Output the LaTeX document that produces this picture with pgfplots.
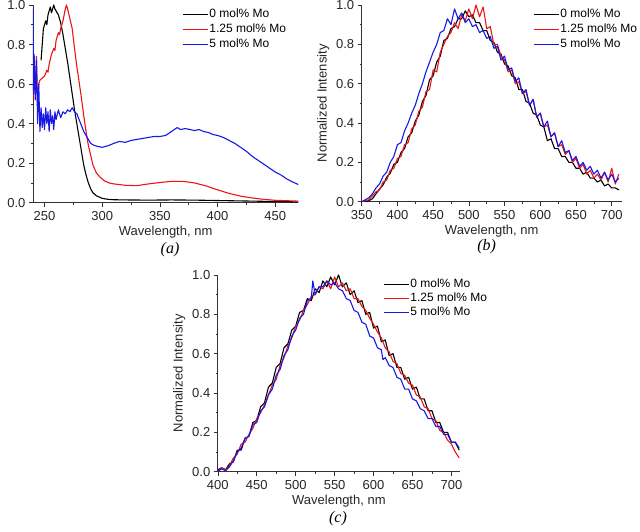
\documentclass[border=0pt]{standalone}
\usepackage{pgfplots}
\pgfplotsset{compat=1.18}
\usepackage{fontspec}
\setmainfont{Liberation Sans}
\newfontfamily\panelfont{Liberation Serif}
\definecolor{specred}{RGB}{235,20,24}
\definecolor{specblue}{RGB}{24,24,230}

\pgfplotsset{
  panel/.style={
    scale only axis,
    axis lines*=left,
    axis line style={line width=0.8pt, black!80},
    tick align=outside,
    tick style={line width=0.6pt, black!80},
    major tick length=4pt, minor tick length=2pt,
    minor x tick num=1, minor y tick num=1,
    ymin=0, ymax=1,
    ytick={0,0.2,0.4,0.6,0.8,1.0},
    xtick distance=50,
    yticklabel style={/pgf/number format/.cd, fixed, fixed zerofill, precision=1},
    /pgf/number format/assume math mode=true,
    tick label style={font=\fontsize{13}{14}\selectfont, text=black!85},
    xticklabel style={yshift=-1pt},
    label style={font=\fontsize{13}{14}\selectfont, text=black!85},
    xlabel={Wavelength, nm},
    xlabel style={yshift=1pt},
    legend cell align=left,
    legend image code/.code={\draw[##1, line width=1.2pt] (0pt,0pt) -- (25pt,0pt);},
    legend style={draw=none, fill=none, inner sep=0pt, font=\fontsize{12}{13}\selectfont,
      nodes={inner sep=1pt, text height=9pt, text depth=3pt}, row sep=1pt,
      anchor=north west},
    every axis plot/.append style={line width=1.1pt, line join=round},
  }
}

\begin{document}
\begin{tikzpicture}[x=1pt,y=1pt]
\useasboundingbox (0,0) rectangle (640,532);

% ---------------- (a) absorption ----------------
\begin{axis}[panel,
  at={(33pt,329.3pt)}, anchor=south west,
  width=265.3pt, height=197.7pt,
  xmin=240, xmax=470,
  legend style={at={(0.5616,0.99)}}]
\addplot[black] table {
247 0.72
248 0.80
249 0.88
251 0.92
252 0.90
253 0.95
254 0.97
255 0.99
256 0.96
257 0.98
258 1.00
259 0.98
260 0.97
262 0.95
264 0.91
266 0.85
268 0.78
270 0.71
272 0.63
274 0.55
276 0.47
278 0.40
280 0.33
282 0.26
284 0.19
286 0.14
288 0.10
290 0.07
292 0.05
295 0.035
300 0.022
305 0.017
310 0.015
320 0.014
340 0.013
360 0.014
380 0.013
400 0.011
420 0.009
440 0.007
460 0.005
470 0.004
};
\addlegendentry{0 mol\% Mo}
\addplot[specred] table {
240 0.52
241 0.70
242 0.55
243 0.74
244 0.50
245 0.60
246 0.62
248 0.63
250 0.64
252 0.67
253 0.66
254 0.70
256 0.75
258 0.78
259 0.77
260 0.82
262 0.86
263 0.85
264 0.88
266 0.92
268 0.98
269 1.00
270 0.98
272 0.93
274 0.88
276 0.78
278 0.69
280 0.61
282 0.53
284 0.44
286 0.36
288 0.29
290 0.24
292 0.19
295 0.15
298 0.13
302 0.11
306 0.10
310 0.095
320 0.088
330 0.086
340 0.095
350 0.102
360 0.108
370 0.108
380 0.100
390 0.085
400 0.065
410 0.047
420 0.033
430 0.024
440 0.017
450 0.012
460 0.010
470 0.008
};
\addlegendentry{1.25 mol\% Mo}
\addplot[specblue] table {
240 0.98
240.5 0.55
241 0.75
242 0.52
243 0.72
244 0.40
245 0.60
246 0.36
247 0.48
248 0.38
249 0.45
250 0.37
251 0.48
252 0.40
253 0.46
254 0.36
255 0.47
256 0.40
257 0.44
258 0.37
259 0.46
260 0.42
262 0.47
264 0.43
266 0.46
268 0.45
270 0.47
272 0.46
274 0.48
276 0.46
278 0.45
280 0.42
282 0.39
284 0.36
286 0.34
288 0.32
290 0.30
293 0.29
296 0.285
300 0.28
303 0.285
306 0.29
310 0.30
315 0.31
320 0.305
325 0.315
330 0.32
335 0.325
340 0.33
345 0.335
350 0.335
355 0.34
360 0.36
365 0.38
368 0.37
372 0.375
376 0.37
380 0.365
384 0.37
388 0.36
392 0.355
396 0.345
400 0.34
405 0.33
410 0.315
415 0.30
420 0.28
425 0.26
430 0.235
435 0.215
440 0.195
445 0.175
450 0.155
455 0.14
460 0.12
465 0.105
470 0.092
};
\addlegendentry{5 mol\% Mo}
\end{axis}

% ---------------- (b) emission ----------------
\begin{axis}[panel,
  at={(361.7pt,330.3pt)}, anchor=south west,
  width=260pt, height=196.7pt,
  xmin=350, xmax=714,
  ylabel={Normalized Intensity},
  legend style={at={(0.659,0.99)}}]
\addplot[black] table {
350 0.00
355 0.00
360 0.005
365 0.015
370 0.04
375 0.065
380 0.085
385 0.125
390 0.145
395 0.19
400 0.20
405 0.25
410 0.27
415 0.33
420 0.35
425 0.41
430 0.44
435 0.51
440 0.54
445 0.62
450 0.64
455 0.71
460 0.74
465 0.82
470 0.83
475 0.88
480 0.89
485 0.93
490 0.93
495 0.97
500 0.94
505 0.95
510 0.91
515 0.91
520 0.87
525 0.87
530 0.82
535 0.81
540 0.76
545 0.75
550 0.70
555 0.69
560 0.64
565 0.63
570 0.57
575 0.57
580 0.51
585 0.50
590 0.45
595 0.44
600 0.39
605 0.38
610 0.31
615 0.32
620 0.27
625 0.27
630 0.23
635 0.23
640 0.20
645 0.20
650 0.17
655 0.17
660 0.14
665 0.15
670 0.12
675 0.12
680 0.10
685 0.11
690 0.08
695 0.09
700 0.07
705 0.07
710 0.06
};
\addlegendentry{0 mol\% Mo}
\addplot[specred] table {
350 0.00
355 0.005
360 0.01
365 0.03
370 0.05
375 0.06
380 0.10
385 0.11
390 0.16
395 0.17
400 0.22
405 0.23
410 0.29
415 0.30
420 0.37
425 0.39
430 0.46
435 0.48
440 0.56
445 0.57
450 0.67
455 0.66
460 0.76
465 0.80
470 0.84
475 0.86
480 0.91
485 0.88
490 0.95
495 0.92
500 0.98
505 0.93
510 1.00
515 0.94
520 0.99
525 0.88
530 0.89
535 0.80
540 0.80
545 0.74
550 0.72
555 0.66
560 0.67
565 0.60
570 0.61
575 0.55
580 0.56
585 0.49
590 0.52
595 0.43
600 0.45
605 0.38
610 0.39
615 0.33
620 0.35
625 0.28
630 0.29
635 0.24
640 0.26
645 0.20
650 0.22
655 0.17
660 0.19
665 0.14
670 0.16
675 0.12
680 0.14
685 0.11
690 0.15
695 0.10
700 0.17
705 0.09
710 0.14
};
\addlegendentry{1.25 mol\% Mo}
\addplot[specblue] table {
350 0.00
355 0.01
360 0.02
365 0.04
370 0.07
375 0.09
380 0.13
385 0.15
390 0.20
395 0.23
400 0.29
405 0.30
410 0.36
415 0.40
420 0.45
425 0.49
430 0.55
435 0.60
440 0.66
445 0.71
450 0.76
455 0.80
460 0.86
465 0.87
470 0.93
475 0.90
480 0.98
485 0.93
490 0.96
495 0.91
500 0.93
505 0.89
510 0.90
515 0.86
520 0.87
525 0.83
530 0.84
535 0.78
540 0.79
545 0.72
550 0.74
555 0.67
560 0.68
565 0.61
570 0.63
575 0.55
580 0.57
585 0.49
590 0.52
595 0.43
600 0.45
605 0.38
610 0.41
615 0.33
620 0.35
625 0.28
630 0.31
635 0.25
640 0.26
645 0.21
650 0.23
655 0.18
660 0.20
665 0.16
670 0.18
675 0.14
680 0.16
685 0.12
690 0.15
695 0.11
700 0.14
705 0.10
710 0.12
};
\addlegendentry{5 mol\% Mo}
\end{axis}

% ---------------- (c) emission ----------------
\begin{axis}[panel,
  at={(217.8pt,60.3pt)}, anchor=south west,
  width=242.2pt, height=196.7pt,
  xmin=400, xmax=711,
  ylabel={Normalized Intensity},
  legend style={at={(0.682,0.99)}, row sep=0pt}]
\addplot[black] table {
400 0.01
405 0.02
410 0.01
415 0.04
420 0.05
425 0.11
430 0.11
435 0.17
440 0.18
445 0.25
450 0.26
455 0.33
460 0.35
465 0.43
470 0.45
475 0.53
480 0.55
485 0.63
490 0.65
495 0.72
500 0.74
505 0.81
510 0.82
515 0.88
520 0.87
525 0.93
530 0.91
535 0.97
540 0.94
545 0.99
550 0.95
555 1.00
560 0.94
565 0.96
570 0.90
575 0.92
580 0.86
585 0.87
590 0.80
595 0.81
600 0.73
605 0.74
610 0.66
615 0.67
620 0.59
625 0.60
630 0.53
635 0.53
640 0.47
645 0.48
650 0.42
655 0.43
660 0.37
665 0.37
670 0.31
675 0.31
680 0.25
685 0.25
690 0.20
695 0.20
700 0.15
705 0.15
710 0.11
};
\addlegendentry{0 mol\% Mo}
\addplot[specred] table {
400 0.00
405 0.02
410 0.01
415 0.03
420 0.07
425 0.09
430 0.14
435 0.15
440 0.19
445 0.22
450 0.27
455 0.30
460 0.34
465 0.39
470 0.44
475 0.47
480 0.54
485 0.58
490 0.64
495 0.68
500 0.74
505 0.77
510 0.82
515 0.85
520 0.89
525 0.90
530 0.94
535 0.93
540 0.97
545 0.93
550 0.99
555 0.94
560 0.96
565 0.92
570 0.93
575 0.88
580 0.88
585 0.84
590 0.82
595 0.78
600 0.75
605 0.71
610 0.68
615 0.63
620 0.61
625 0.56
630 0.55
635 0.50
640 0.49
645 0.45
650 0.44
655 0.39
660 0.38
665 0.33
670 0.32
675 0.27
680 0.26
685 0.21
690 0.20
695 0.16
700 0.14
705 0.10
710 0.07
};
\addlegendentry{1.25 mol\% Mo}
\addplot[specblue] table {
400 0.00
405 0.015
410 0.005
415 0.025
420 0.055
425 0.10
430 0.12
435 0.17
440 0.18
445 0.24
450 0.25
455 0.31
460 0.33
465 0.39
470 0.42
475 0.49
480 0.52
485 0.59
490 0.62
495 0.69
500 0.72
505 0.78
510 0.80
515 0.87
520 0.88
522 0.97
525 0.90
530 0.94
535 0.94
540 0.97
545 0.95
550 0.96
555 0.93
560 0.92
565 0.88
570 0.87
575 0.82
580 0.81
585 0.76
590 0.75
595 0.69
600 0.68
605 0.63
610 0.62
612 0.57
615 0.58
620 0.54
625 0.53
630 0.48
635 0.47
640 0.42
645 0.42
650 0.37
655 0.36
660 0.32
665 0.31
670 0.27
675 0.27
680 0.23
685 0.23
690 0.19
695 0.19
700 0.15
705 0.15
710 0.12
};
\addlegendentry{5 mol\% Mo}
\end{axis}

% panel captions
\node[font=\panelfont\itshape\fontsize{16}{16}\selectfont] at (170,282) {(a)};
\node[font=\panelfont\itshape\fontsize{16}{16}\selectfont] at (486.7,285.3) {(b)};
\node[font=\panelfont\itshape\fontsize{16}{16}\selectfont] at (338,13) {(c)};
\end{tikzpicture}
\end{document}
